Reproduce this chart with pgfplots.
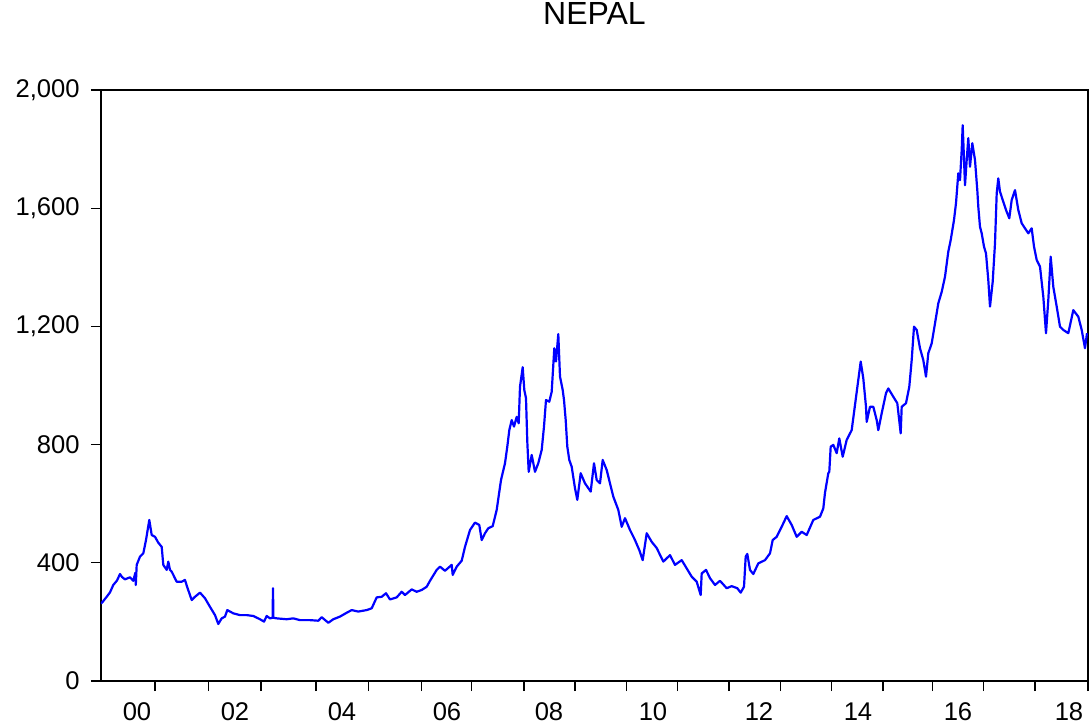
\documentclass[border=0pt]{standalone}
\usepackage{fontspec}
\setmainfont{Liberation Sans}
\usepackage{pgfplots}
\usepackage{pgfplotstable}
\pgfplotsset{compat=1.18}

% NEPSE index, plotted by position of the trading session (x) against the index level (y).
\pgfplotstableread{
t idx
101 262
102.7 268
106.7 285
110 300
113.3 325
117 340
120 362
122 352
125 344
130 351
133.3 339
135.3 366
135.8 325
136.7 393
140 421
143.3 432
146 477
149.3 545
151.7 494
155 488
158.3 468
161.7 454
163.3 393
166.7 376
168.3 404
170 376
171.7 370
176.7 336
181.7 336
185 342
187.3 317
191.7 274
195 285
200 299
205 280
210 251
215 223
218.3 193
221.7 212
225 218
227.3 240
233.3 229
240 223
246.7 223
253.3 220
260 209
264 201
266.7 220
270 212
272.6 214
273 314
273.4 214
276.7 212
286.7 209
293.3 212
300 206
310 206
318.3 204
321.7 216
328.3 197
333.3 209
340 218
346.7 231
351.7 240
358.3 235
366.7 240
371.7 246
376.7 283
381.7 285
386 297
390 276
396.7 283
401.7 302
405 291
411.7 310
416.7 302
421.7 308
426.7 319
430 339
436.7 376
440 387
445 373
451.7 393
452.7 359
456.7 387
461.7 407
465 454
470 511
475 536
479.3 528
481.7 477
485 500
488.3 517
492.7 524
496.7 579
501 680
505 737
507.3 793
509.3 849
511.7 883
514 861
516.7 894
518.7 872
520 996
522.7 1062
524.3 985
526 957
527.3 810
528.7 708
531.7 765
535 708
538.3 737
541.7 782
544 861
546 951
549.3 945
551.7 979
554.3 1126
556 1081
558.3 1174
560 1030
562.7 985
564 951
565.7 883
567.3 793
569.3 748
571.7 725
575 652
577.3 613
580.7 703
585 669
590.7 641
594 737
596.7 680
600 669
602.7 748
606.7 714
610 669
613.3 624
618.3 579
621.7 522
625 551
630 511
635 477
639.3 443
642.7 409
646.7 500
651.7 471
656.7 450
663.3 404
670 426
675 393
681.7 409
686.7 381
691.7 353
696.7 336
700.7 291
701.7 364
706 376
710 348
715 325
720 339
726.7 314
731.7 321
737.3 314
740.7 299
744 319
745.7 421
747.3 430
750 376
753.3 362
758.3 398
765 409
770 432
772.7 477
776.7 488
781.7 522
786.7 558
791.7 528
796.7 488
801.7 505
806.7 494
813.3 545
820 556
823.3 584
825 637
828.3 703
829.3 708
830.7 793
833.3 799
836.7 771
839.3 821
842.7 759
846.7 816
851.7 849
855 934
858.3 1019
860.7 1081
863.3 1024
866 928
866.7 877
870 928
873.3 928
876.7 883
878.3 849
881.7 906
886 974
888.3 990
893.3 962
897.3 940
900.7 838
901.7 928
906 940
909.3 996
911.7 1086
914 1199
916.7 1188
920 1126
923.3 1086
926 1030
928.3 1109
931.7 1143
935 1210
938.3 1278
941.7 1317
945 1368
948.3 1453
950.7 1492
954 1560
956 1617
958.3 1718
960 1695
961.7 1797
962.7 1881
965 1678
966.7 1763
968.3 1837
970 1740
972.3 1820
975 1763
977.3 1661
978.3 1605
980 1537
981.7 1515
984 1470
986 1447
988.3 1357
990 1267
992.7 1351
995 1481
996.7 1650
998.3 1701
1000 1656
1002.7 1628
1006 1594
1009.3 1566
1011.7 1628
1015 1661
1018.3 1594
1021.7 1549
1025 1532
1028.3 1515
1031.7 1532
1034 1470
1036.7 1425
1040 1402
1043.3 1301
1046 1177
1048.3 1289
1050.7 1436
1053.3 1334
1056.7 1267
1060 1199
1063.3 1188
1068.3 1177
1073.3 1255
1078.3 1233
1081.7 1188
1085 1126
1087 1177
}\nepse

\begin{document}
\begin{tikzpicture}
\begin{axis}[
  at={(0,0)}, anchor=south west,
  scale only axis,
  width=493.5pt, height=295.5pt,
  xmin=101, xmax=1088,
  ymin=0, ymax=2000,
  axis line style={black, line width=0.9pt},
  tick style={black, line width=0.6pt},
  tick align=outside,
  major tick length=5pt,
  minor tick length=5pt,
  xtick pos=bottom, ytick pos=left,
  % year boundaries as tick marks, two-digit year labels centred in between
  xtick={137,235,342,447,549,653,759,858,958,1069},
  xticklabels={00,02,04,06,08,10,12,14,16,18},
  major x tick style={draw=none},
  minor x tick style={draw=black, line width=0.6pt},
  minor xtick={155,208.3,261,316,368.7,421.7,471.7,524,575,626.3,677.7,729,780.3,831.7,883,932.3,983.7,1035,1088},
  ytick={0,400,800,1200,1600,2000},
  /pgf/number format/.cd, 1000 sep={,}, assume math mode=true,
  /pgfplots/.cd,
  ticklabel style={font=\fontsize{12.8}{15}\selectfont},
  yticklabel style={inner sep=0pt, xshift=-5.5pt},
  xticklabel style={inner sep=0pt, yshift=-5.5pt},
  title={NEPAL},
  title style={at={(0.5,1)}, anchor=center, yshift=32.4pt, inner sep=0pt,
    font=\fontsize{16}{19}\selectfont},
  clip=true,
]
\addplot[color={rgb,255:red,0;green,0;blue,255}, line width=1.1pt, line join=round] table[x=t, y=idx] {\nepse};
\end{axis}
\pgfresetboundingbox
\useasboundingbox (-50.5pt,-22pt) rectangle (494pt,340.5pt);
\end{tikzpicture}
\end{document}
